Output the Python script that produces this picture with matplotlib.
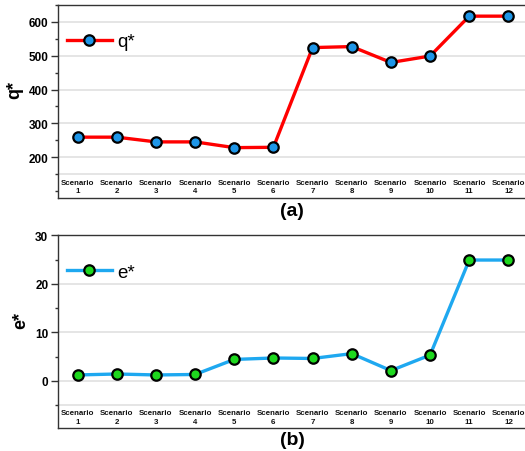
import matplotlib
matplotlib.use("Agg")
import matplotlib.pyplot as plt
import matplotlib.transforms as mtransforms
from matplotlib.ticker import MultipleLocator

plt.rcParams['font.family'] = ['Liberation Sans', 'DejaVu Sans']

scenarios = [f"Scenario\n{i}" for i in range(1, 13)]
q_star = [259, 259, 245, 245, 228, 229, 524, 527, 480, 499, 617, 617]
e_star = [1.2, 1.4, 1.2, 1.3, 4.4, 4.7, 4.6, 5.6, 2.1, 5.3, 24.9, 24.9]

q_ticks = [200, 300, 400, 500, 600]
e_ticks = [0, 10, 20, 30]

fig = plt.figure(figsize=(5.25, 4.52), dpi=100)
ax1 = fig.add_axes([58/525, 1-199/452, 470/525, 193/452])
ax2 = fig.add_axes([58/525, 1-429.3/452, 470/525, 193/452])

x = list(range(1, 13))

def style(ax, ylim, minor, baseline, ylabel, ticks):
    ax.set_xlim(0.5, 12.5)
    ax.set_ylim(*ylim)
    ax.set_yticks(ticks)
    ax.yaxis.set_minor_locator(MultipleLocator(minor))
    ax.set_xticks([])
    for v in ticks + [baseline]:
        if ylim[0] < v < ylim[1]:
            ax.axhline(v, color='#e3e3e3', lw=1.3, zorder=0)
    for s in ax.spines.values():
        s.set_color('#333333')
        s.set_linewidth(1.0)
    ax.tick_params(axis='y', which='major', length=5, width=1.0, color='#333333',
                   labelsize=8.5, pad=2)
    ax.tick_params(axis='y', which='minor', length=2.5, width=1.0, color='#333333')
    for lab in ax.get_yticklabels():
        lab.set_fontweight('bold')
    ax.set_ylabel(ylabel, fontsize=13, fontweight='bold')
    trans = mtransforms.blended_transform_factory(ax.transData, ax.transAxes)
    for xi, s in zip(x, scenarios):
        ax.text(xi, 0.058, s, transform=trans, ha='center', va='center',
                fontsize=5.7, fontweight='bold', linespacing=1.25, color='#111111')

style(ax1, (79, 650), 50, 150, 'q*', q_ticks)
style(ax2, (-9.8, 30), 5, -5, 'e*', e_ticks)

ax1.plot(x, q_star, color='#ff0000', lw=2.4, marker='o', ms=7.5,
         mfc='#1e96e8', mec='black', mew=1.6, label='q*', zorder=3)
ax2.plot(x, e_star, color='#1ea8f0', lw=2.4, marker='o', ms=7.5,
         mfc='#1ed81e', mec='black', mew=1.6, label='e*', zorder=3)

for ax in (ax1, ax2):
    leg = ax.legend(loc='center left', bbox_to_anchor=(0.019, 0.81), frameon=False,
                    borderpad=0, borderaxespad=0, handlelength=2.4, handletextpad=0.3,
                    prop={'size': 13.5, 'weight': 'medium'})

ax1.yaxis.set_label_coords(-0.074, 0.565)
ax2.yaxis.set_label_coords(-0.062, 0.566)

fig.text(292/525, 1-212/452, '(a)', fontsize=14, fontweight='bold', ha='center', va='center')
fig.text(292/525, 1-441/452, '(b)', fontsize=14, fontweight='bold', ha='center', va='center')

fig.savefig('out.png', dpi=100)
